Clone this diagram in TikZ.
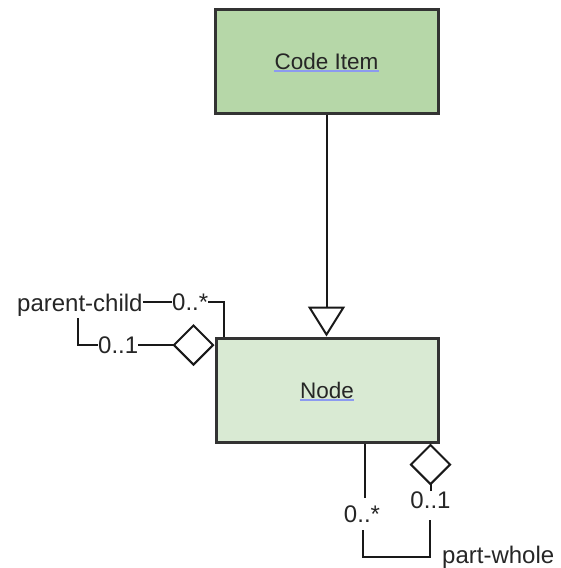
\documentclass[tikz,border=0pt]{standalone}
\usepackage{fontspec}
\setmainfont{Liberation Sans}
\usetikzlibrary{arrows.meta}
\definecolor{ciFill}{HTML}{B6D7A8}
\definecolor{ndFill}{HTML}{D9EAD3}
\definecolor{boxLine}{HTML}{333333}
\definecolor{ulBlue}{HTML}{8C9AF0}
\tikzset{
  umlbox/.style={draw=boxLine, line width=3pt, rectangle, inner sep=0pt},
  boxtext/.style={inner sep=0pt, font=\fontsize{22.5}{26}\selectfont, text=black!85},
  lbl/.style={inner sep=0pt, font=\fontsize{24}{28}\selectfont, text=black!85},
  conn/.style={draw=black!90, line width=2pt},
  ul/.style={draw=ulBlue, line width=1.3pt},
  gentip/.style={-{Triangle[open, length=30pt, width=37pt]}},
  aggtip/.style={-{Diamond[open, length=42pt, width=42pt]}}
}
\begin{document}
\begin{tikzpicture}[x=1pt, y=-1pt]
\path[fill=white, use as bounding box] (0,0) rectangle (560,568);

% classes
\node[umlbox, fill=ciFill, minimum width=223pt, minimum height=104pt] (ci) at (326.5,61) {};
\node[umlbox, fill=ndFill, minimum width=222pt, minimum height=104pt] (nd) at (327,390) {};
\node[boxtext] (ciT) at (ci.center) {Code Item};
\node[boxtext] (ndT) at (nd.center) {Node};
\draw[ul] ([yshift=-2pt]ciT.base west) -- ([yshift=-2pt]ciT.base east);
\draw[ul] ([yshift=-2pt]ndT.base west) -- ([yshift=-2pt]ndT.base east);

% generalization
\draw[conn, gentip] (ci.south) -- (ci.south |- nd.north);

% parent-child self association
\coordinate (pcA) at ([xshift=9pt]nd.north west);
\node[lbl, anchor=base west] (pcStar) at (172,310) {0..*};
\node[lbl, anchor=base west] (pcName) at (17,311) {parent-child};
\node[lbl, anchor=west] (pcOne) at (98,345) {0..1};
\coordinate (pcCorner) at (78,318);
\draw[conn] (pcA) |- (pcStar.east);
\draw[conn] (pcName.east |- pcStar.west) -- (pcStar.west);
\draw[conn] (pcCorner) |- (pcOne.west);
\draw[conn, aggtip] (pcOne.east) -- (pcOne.east -| nd.west);

% part-whole self association
\coordinate (pwA) at ([xshift=-75pt]nd.south east);
\node[lbl, anchor=base] (pwStar) at (362,522) {0..*};
\node[lbl, anchor=base] (pwOne) at (430.5,508) {0..1};
\node[lbl, anchor=base west] (pwName) at (442,563) {part-whole};
\coordinate (pwB) at (363,530);
\coordinate (pwCorner) at (430,557);
\coordinate (pwC) at (430,520);
\draw[conn] (pwA) -- (pwA |- 0,498);
\draw[conn] (pwB) |- (pwCorner) -- (pwC);
\draw[conn, aggtip] (pwOne.north) -- (pwOne.north |- nd.south);
\end{tikzpicture}
\end{document}
